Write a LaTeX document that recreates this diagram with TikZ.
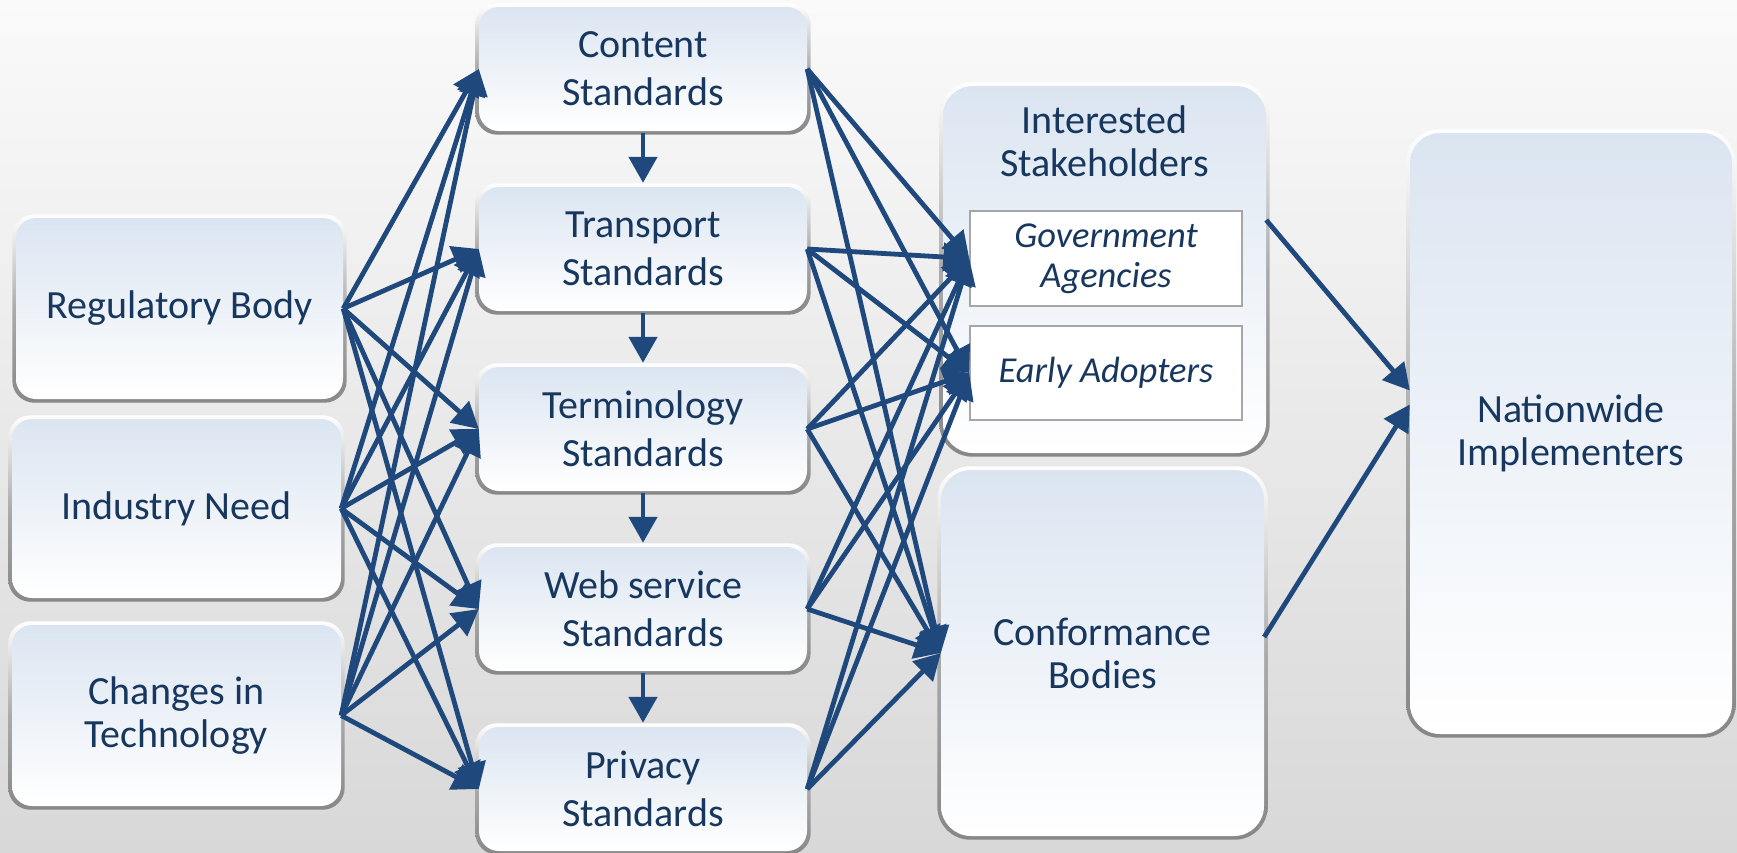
\documentclass[tikz,border=0pt]{standalone}
\usepackage{fontspec}
\setmainfont{Carlito}
\usetikzlibrary{arrows.meta,backgrounds}
\definecolor{bgtop}{RGB}{250,250,250}
\definecolor{bgbot}{RGB}{216,216,216}
\definecolor{boxtop}{RGB}{219,229,241}
\definecolor{txt}{RGB}{23,55,94}
\definecolor{arr}{RGB}{31,73,125}
\tikzset{
  pbox/.style={rounded corners=#1, top color=boxtop, bottom color=white, inner sep=0pt, text=txt, align=center},
  pbox/.default=20pt,
  fa/.style={font=\fontsize{40}{43}\selectfont},
  fb/.style={font=\fontsize{40}{48}\selectfont},
  sub/.style={fill=white, draw=black!35, line width=1.5pt, inner sep=0pt, text=txt, align=center, font=\fontsize{36.5}{40}\selectfont\itshape},
  title/.style={inner sep=0pt, text=txt, align=center, font=\fontsize{40}{43}\selectfont},
  link/.style={draw=arr, line width=4.8pt, -{Triangle[length=26pt,width=28pt]}}
}
\newcommand{\rimbox}[2]{%
  \begin{pgfonlayer}{background}
  \shade[rounded corners=#2, top color=white, bottom color=black!47, middle color=black!33]
    ([shift={(-3.5pt,3.5pt)}]#1.north west) rectangle ([shift={(3.5pt,-3.5pt)}]#1.south east);
  \end{pgfonlayer}}
\begin{document}
\begin{tikzpicture}[x=1pt,y=-1pt]
\begin{pgfonlayer}{background}
\shade[top color=bgtop, bottom color=bgbot] (0,0) rectangle (1737,852);
\end{pgfonlayer}
\useasboundingbox (0,0) rectangle (1737,852);

% left column
\node[pbox, fa, minimum width=327pt, minimum height=181pt] (reg) at (179.5,308.5) {Regulatory Body};
\node[pbox, fa, minimum width=329pt, minimum height=179pt] (ind) at (176.5,508.5) {Industry Need};
\node[pbox, fa, minimum width=329pt, minimum height=181pt] (chg) at (176.5,715.5) {Changes in\\Technology};
\rimbox{reg}{22pt}\rimbox{ind}{22pt}\rimbox{chg}{22pt}

% middle column
\node[pbox, fb, minimum width=328pt, minimum height=124pt] (cont) at (643,69) {Content\\Standards};
\node[pbox, fb, minimum width=328pt, minimum height=124pt] (trans) at (643,249) {Transport\\Standards};
\node[pbox, fb, minimum width=328pt, minimum height=124pt] (term) at (643,429) {Terminology\\Standards};
\node[pbox, fb, minimum width=328pt, minimum height=124pt] (web) at (643,609) {Web service\\Standards};
\node[pbox, fb, minimum width=328pt, minimum height=124pt] (priv) at (643,789) {Privacy\\Standards};
\rimbox{cont}{22pt}\rimbox{trans}{22pt}\rimbox{term}{22pt}\rimbox{web}{22pt}\rimbox{priv}{22pt}

% right column
\node[pbox=30pt, minimum width=323pt, minimum height=367pt] (stake) at (1104.5,269.5) {};
\rimbox{stake}{33pt}
\node[title, anchor=north] (staketitle) at (1104.5,106) {Interested\\Stakeholders};
\node[sub, minimum width=272pt, minimum height=95pt] (gov) at (1106,258.5) {Government\\Agencies};
\node[sub, minimum width=272pt, minimum height=94pt] (early) at (1106,373) {Early Adopters};
\node[pbox=30pt, fa, minimum width=323pt, minimum height=366pt] (conf) at (1102.5,653) {Conformance\\Bodies};
\rimbox{conf}{33pt}
\node[pbox=30pt, fa, minimum width=322pt, minimum height=601pt] (nat) at (1571,433.5) {Nationwide\\Implementers};
\rimbox{nat}{33pt}

% connectors
\foreach \s in {reg,ind,chg}
  \foreach \t in {cont,trans,term,web,priv}
    \draw[link] (\s.east) -- (\t.west);
\foreach \s in {cont,trans,term,web,priv}
  \foreach \t in {gov,early,conf}
    \draw[link] (\s.east) -- (\t.west);
\draw[link, shorten <=2pt, shorten >=4pt] (cont.south) -- (trans.north);
\draw[link, shorten <=2pt, shorten >=4pt] (trans.south) -- (term.north);
\draw[link, shorten <=2pt, shorten >=4pt] (term.south) -- (web.north);
\draw[link, shorten <=2pt, shorten >=4pt] (web.south) -- (priv.north);
\draw[link] ([yshift=49.5pt]stake.east) -- ([yshift=43pt]nat.west);
\draw[link] ([yshift=16pt]conf.east) -- ([yshift=29pt]nat.west);
\end{tikzpicture}
\end{document}
